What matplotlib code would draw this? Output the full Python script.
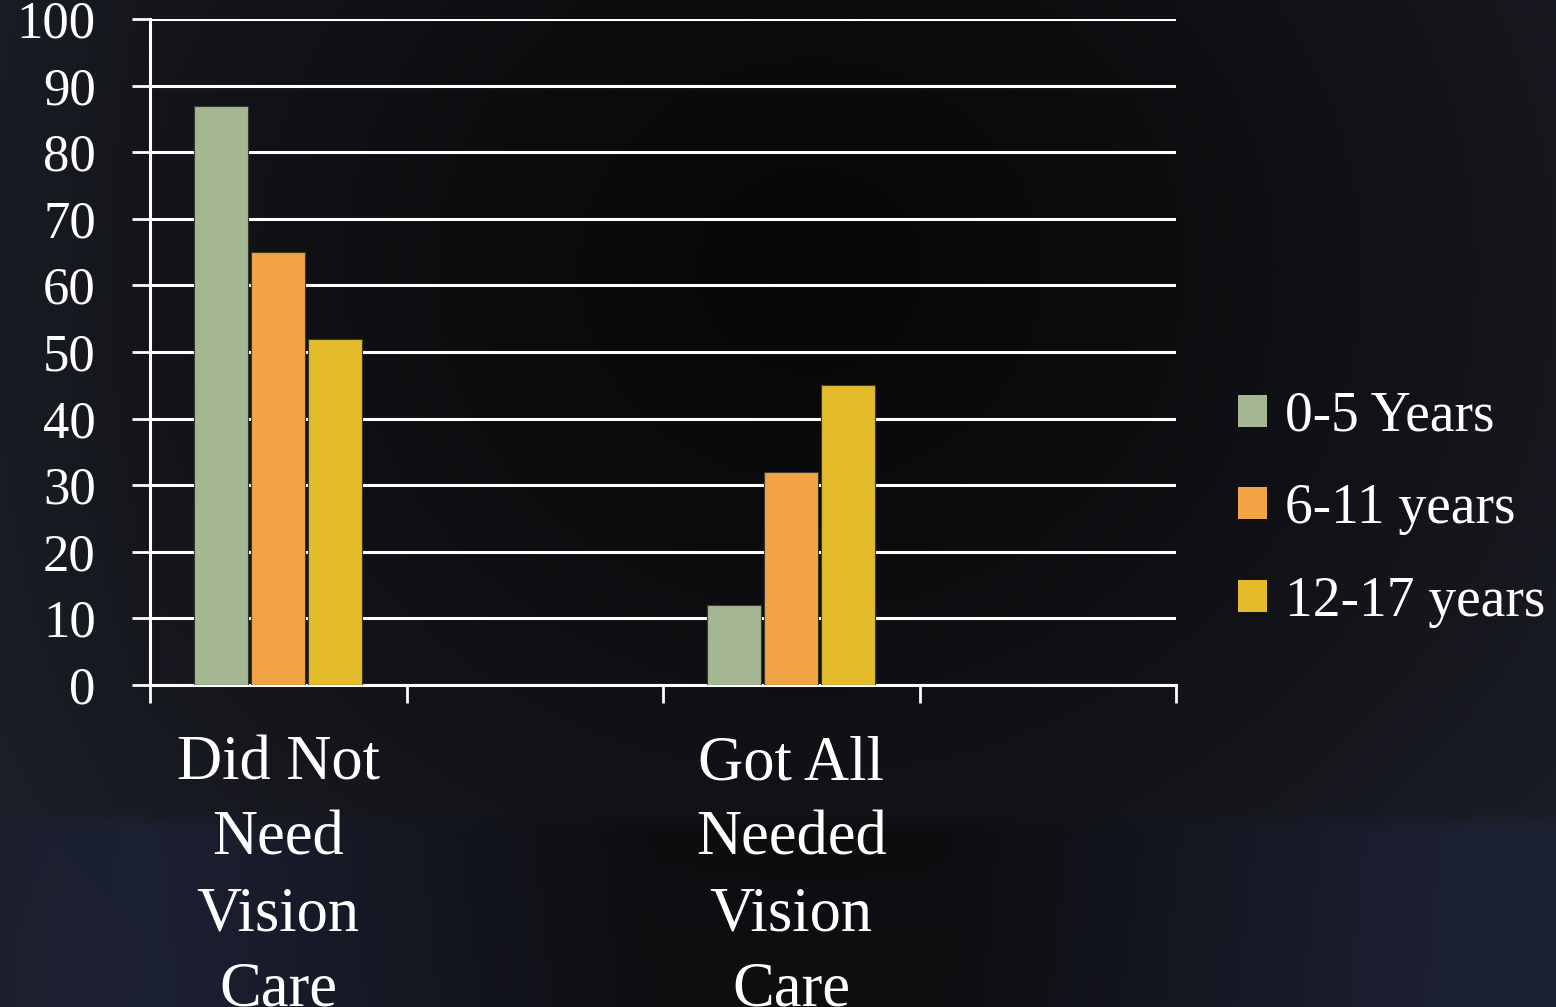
import numpy as np
import matplotlib
matplotlib.use("Agg")
import matplotlib.pyplot as plt
from matplotlib.patches import Patch

categories = ["Did Not\nNeed\nVision\nCare", "", "Got All\nNeeded\nVision\nCare", ""]
series_names = ["0-5 Years", "6-11 years", "12-17 years"]
v_0_5 = [87, None, 12, None]
v_6_11 = [65, None, 32, None]
v_12_17 = [52, None, 45, None]
colors = ["#a5b692", "#f2a344", "#e3bb2b"]
yticks = list(range(0, 101, 10))

W, H = 1556, 1007
fig = plt.figure(figsize=(W / 100, H / 100), dpi=100)

# background: dark radial vignette with bluish lower band
yy, xx = np.mgrid[0:H, 0:W]
r = np.sqrt((xx - 810) ** 2 + ((yy - 270) * 1.1) ** 2)
t = np.clip(r / 1100, 0, 1) ** 1.3
c0 = np.array([0.03, 0.03, 0.03])
c1 = np.array([0.12, 0.13, 0.17])
img = c0 + (c1 - c0) * t[..., None]
band = np.clip((yy - 810) / 20, 0, 1)
side = np.clip((np.abs(xx - 800) - 150) / 500, 0, 1)
dark = np.array([0.05, 0.05, 0.06])
blue = np.array([0.11, 0.13, 0.21])
bcol = dark + (blue - dark) * side[..., None]
img = img * (1 - band[..., None] * 0.85) + bcol * band[..., None] * 0.85
lft = np.clip((150 - xx) / 150, 0, 1) * 0.5
img = img * (1 - lft[..., None]) + np.array([0.11, 0.12, 0.16]) * lft[..., None]

bg = fig.add_axes([0, 0, 1, 1], zorder=-10)
bg.imshow(np.clip(img, 0, 1), aspect="auto", extent=(0, 1, 0, 1), origin="upper")
bg.axis("off")

ax = fig.add_axes([150 / W, 1 - 685 / H, 1026 / W, 666 / H], zorder=1)
ax.set_facecolor("none")

x = np.arange(len(categories))
width = 0.212
offs = [-0.222, 0.0, 0.222]
for vals, col, off, name in zip([v_0_5, v_6_11, v_12_17], colors, offs, series_names):
    xs = [xi + off for xi, v in zip(x, vals) if v is not None]
    hs = [v for v in vals if v is not None]
    ax.bar(xs, hs, width=width, color=col, edgecolor="#3a3a30", linewidth=0.8,
           zorder=3, label=name)

ax.set_xlim(-0.5, len(categories) - 0.5)
ax.set_ylim(0, 100)
ax.set_yticks(yticks)
ax.yaxis.grid(True, color="white", linewidth=2.2, zorder=1)
ax.set_axisbelow(True)

serif = ["Liberation Serif", "DejaVu Serif"]
ax.set_yticklabels([str(v) for v in yticks], family=serif, fontsize=38, color="white")
ax.tick_params(axis="y", direction="out", length=13, width=2, color="white", pad=26)

ax.set_xticks(np.arange(len(categories) + 1) - 0.5)
ax.set_xticklabels([])
ax.set_xticks(x, minor=True)
ax.set_xticklabels(categories, minor=True, family=serif, fontsize=45, color="white",
                   linespacing=1.4)
ax.tick_params(axis="x", which="major", direction="out", length=13, width=2, color="white")
ax.tick_params(axis="x", which="minor", length=0, pad=36)

for s in ["top", "right"]:
    ax.spines[s].set_visible(False)
ax.spines["left"].set_color("white")
ax.spines["left"].set_linewidth(2.2)
ax.spines["bottom"].set_color("white")
ax.spines["bottom"].set_linewidth(2.2)

handles = [Patch(facecolor=c, edgecolor="none") for c in colors]
leg = fig.legend(handles, series_names, loc="center left",
                 bbox_to_anchor=(1238 / W, 1 - 509 / H), frameon=False,
                 prop={"family": serif, "size": 40}, labelcolor="white",
                 handlelength=0.52, handleheight=0.52, handletextpad=0.32,
                 labelspacing=0.73, borderaxespad=0, borderpad=0)

fig.savefig("out.png", dpi=100)
